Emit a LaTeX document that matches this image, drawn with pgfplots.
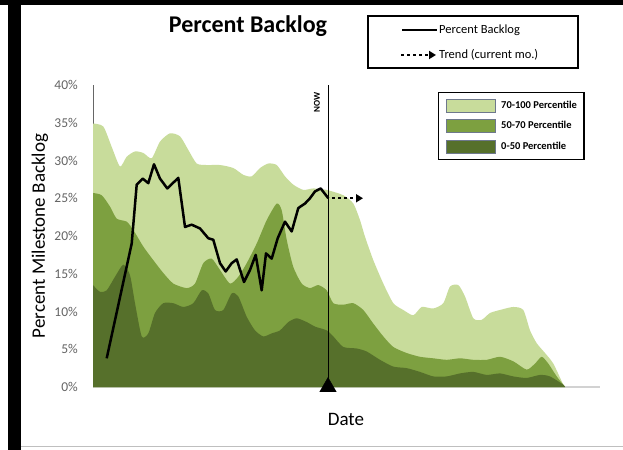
\documentclass[border=0pt]{standalone}
\usepackage{fontspec}
\setmainfont{Carlito}
\usepackage{pgfplots}
\pgfplotsset{compat=1.18}
\usetikzlibrary{arrows.meta}
\definecolor{lightg}{RGB}{200,220,155}
\definecolor{midg}{RGB}{125,160,64}
\definecolor{darkg}{RGB}{86,112,43}
\definecolor{tickgray}{RGB}{100,100,100}
\definecolor{swborder}{RGB}{110,120,140}
\begin{document}
\begin{tikzpicture}
\useasboundingbox (0,0) rectangle (623bp,450bp);
\fill[white] (0,0) rectangle (623bp,450bp);
\fill[black] (8bp,0) rectangle (21bp,450bp);
\fill[black] (0,445bp) rectangle (623bp,450bp);
\draw[gray!50, line width=1bp] (21bp,3bp) -- (623bp,3bp);
\begin{axis}[
  at={(93bp,63bp)}, anchor=south west,
  scale only axis, width=507bp, height=302bp,
  xmin=93, xmax=600, ymin=0, ymax=40,
  axis x line*=bottom, axis y line*=left,
  x axis line style={gray!35, line width=1.2bp},
  y axis line style={gray!80!black, line width=0.8bp},
  xtick=\empty,
  ytick={0,5,10,15,20,25,30,35,40},
  yticklabels={0\%,5\%,10\%,15\%,20\%,25\%,30\%,35\%,40\%},
  ytick style={draw=none},
  yticklabel style={font=\fontsize{13.5bp}{15bp}\selectfont, text=tickgray, inner sep=0pt, xshift=-15bp},
  clip=false,
  title={Percent Backlog},
  title style={at={(axis description cs:0.3057,1.154)}, anchor=base, font=\bfseries\fontsize{24bp}{28bp}\selectfont},
  xlabel={Date},
  xlabel style={at={(axis description cs:0.499,-0.129)}, anchor=base, font=\fontsize{19bp}{22bp}\selectfont},
  ylabel={Percent Milestone Backlog},
  ylabel style={at={(axis description cs:-0.1045,0.5)}, anchor=center, font=\fontsize{19bp}{22bp}\selectfont},
  legend style={at={(axis description cs:0.6805,0.9768)}, anchor=north west, draw=black, line width=1.2bp, fill=white,
    font=\bfseries\fontsize{10.5bp}{12bp}\selectfont, inner xsep=7bp, inner ysep=6bp, row sep=7bp,
    nodes={inner sep=0pt}},
  legend cell align=left,
  legend image code/.code={\draw[#1, draw=swborder, line width=0.6bp] (0bp,-6.5bp) rectangle (49bp,6.5bp);},
  /tikz/every odd column/.append style={column sep=6bp},
]
\addplot[fill=lightg, draw=none, smooth, tension=0.4] coordinates {
(93,34.9) (103.3,34.5) (111.7,31.8) (120,29.2) (126.7,30.5) (135,31.2) (143.3,31.0) (151.7,30.3) (160,32.5) (170,33.6) (180,33.2) (188.3,31.4) (196.7,29.6) (206.7,29.4) (220,29.4) (233.3,29.0) (243.3,28.1) (251.7,27.9) (260,29.0) (268.3,29.6) (276.7,29.4) (285,27.9) (293.3,26.8) (303.3,26.1) (313.3,26.3) (326.7,26.1) (343.3,25.4) (353.3,24.3) (360,22.1) (365,19.9) (373.3,16.8) (383.3,13.7) (393.3,11.1) (403.3,10.2) (413.3,9.5) (421.7,10.6) (433.3,10.4) (443.3,11.1) (450,13.3) (458.3,13.5) (465,12.0) (473.3,9.1) (481.7,8.9) (490,9.8) (500,10.2) (513.3,10.6) (523.3,10.2) (530,7.5) (536.7,5.8) (545,4.5) (553.3,3.1) (563.3,0.3) (565,0)
} \closedcycle;
\addlegendentry{70-100 Percentile}
\addplot[fill=midg, draw=none, smooth, tension=0.4] coordinates {
(93,25.7) (101.7,25.4) (110,23.9) (116.7,22.3) (126.7,21.9) (133.3,20.8) (143.3,18.6) (153.3,16.8) (163.3,15.1) (173.3,13.7) (186.7,13.1) (195,13.7) (203.3,16.4) (211.7,17.0) (220,15.5) (230,13.7) (238.3,14.6) (246.7,16.4) (256.7,19.0) (266.7,22.1) (276.7,24.3) (281.7,23.4) (286.7,19.5) (293.3,15.9) (301.7,13.7) (310,13.1) (318.3,13.5) (326.7,12.8) (333.3,11.1) (343.3,10.9) (353.3,11.1) (363.3,10.2) (373.3,8.4) (383.3,6.7) (393.3,5.3) (406.7,4.5) (420,4.0) (433.3,3.8) (446.7,3.6) (460,3.8) (473.3,3.6) (486.7,3.6) (500,4.0) (513.3,3.4) (526.7,2.3) (535,3.1) (541.7,4.0) (548.3,3.1) (556.7,1.4) (563.3,0.3) (565,0)
} \closedcycle;
\addlegendentry{50-70 Percentile}
\addplot[fill=darkg, draw=none, smooth, tension=0.4] coordinates {
(93,13.5) (100,12.6) (106.7,12.8) (115,14.6) (123.3,16.2) (130,14.8) (135,11.1) (141.7,6.7) (148.3,7.1) (155,9.8) (163.3,11.1) (173.3,11.1) (183.3,10.6) (193.3,11.1) (201.7,12.8) (208.3,12.4) (215,10.2) (223.3,10.2) (231.7,12.4) (238.3,12.0) (246.7,9.3) (255,7.5) (263.3,6.7) (271.7,7.1) (280,7.5) (288.3,8.6) (296.7,9.1) (306.7,8.6) (315,8.0) (326.7,7.5) (333.3,6.7) (343.3,5.3) (356.7,5.1) (366.7,4.7) (380,3.6) (393.3,2.7) (406.7,2.5) (420,2.0) (433.3,1.4) (446.7,1.4) (460,1.8) (473.3,2.0) (486.7,1.6) (500,1.8) (513.3,1.4) (526.7,1.2) (540,1.6) (550,1.4) (563.3,0.3) (565,0)
} \closedcycle;
\addlegendentry{0-50 Percentile}
\addplot[black, line width=2.5bp, line join=round, forget plot] coordinates {
(106.7,3.8) (131.7,19.0) (136.7,26.8) (142.7,27.6) (148.3,27.0) (154,29.5) (160,27.6) (167.3,26.3) (178.3,27.7) (185,21.2) (191.7,21.5) (200,21.0) (208.3,19.7) (213.3,19.5) (220,16.4) (225.7,15.3) (231.7,16.4) (236.7,16.9) (244,13.9) (250,15.5) (255.7,17.5) (261.7,12.8) (266,17.7) (271.7,17.0) (277.7,19.7) (285,21.9) (291.7,20.6) (298.3,23.7) (305,24.3) (310,25.0) (315,25.9) (320.7,26.3) (328.3,25.0)
};
\addplot[black, line width=2.2bp, dash pattern=on 2.6bp off 3.4bp, -{Triangle[length=7bp,width=8bp]}, forget plot] coordinates {(332,25) (363,25)};
\addplot[black, line width=1bp, forget plot] coordinates {(328,0) (328,40)};
\addplot[black, only marks, mark=triangle*, mark size=9.5bp, forget plot] coordinates {(328,0)};
\end{axis}
\node[rotate=90, font=\bfseries\fontsize{9bp}{10bp}\selectfont] at (317bp,348bp) {NOW};
% top legend
\draw[black, line width=1.5bp] (368bp,382bp) rectangle (578bp,434bp);
\draw[black, line width=2.5bp] (402bp,420bp) -- (437bp,420bp);
\node[anchor=west, inner sep=0pt, font=\fontsize{12.5bp}{14bp}\selectfont] at (439bp,420bp) {Percent Backlog};
\draw[black, line width=2.2bp, dash pattern=on 2.6bp off 3.4bp, -{Triangle[length=7bp,width=8bp]}] (401bp,395bp) -- (436bp,395bp);
\node[anchor=west, inner sep=0pt, font=\fontsize{12.5bp}{14bp}\selectfont] at (439bp,395bp) {Trend (current mo.)};
\end{tikzpicture}
\end{document}
